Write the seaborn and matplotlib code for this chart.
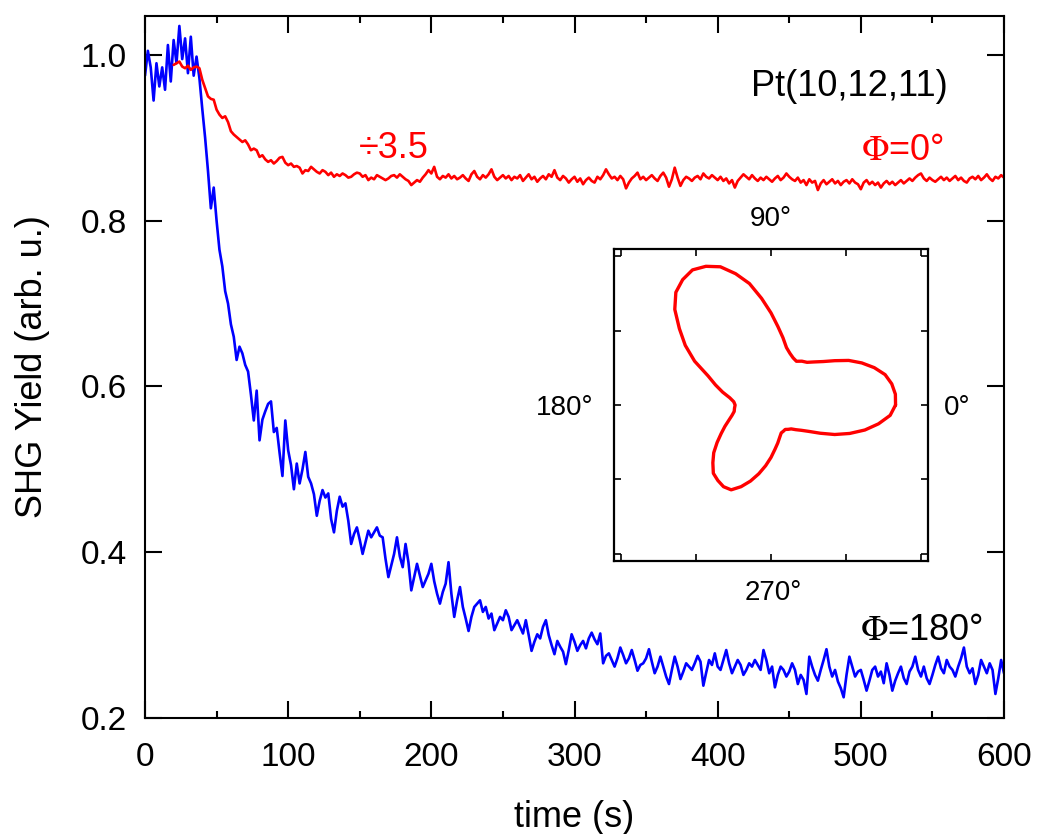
import numpy as np
import matplotlib
matplotlib.use("Agg")
import matplotlib.pyplot as plt
from matplotlib.ticker import MultipleLocator, FormatStrFormatter
import seaborn as sns

# ---------------- data ----------------
# blue trace (Phi = 180 deg), sampled every 2 s from t = 0 s
blue_t0, blue_dt = 0, 2
blue = [
    0.975, 1.005, 0.985, 0.945, 0.990, 0.962, 0.985, 0.958, 1.012, 0.968,
    1.018, 0.990, 1.035, 0.995, 1.020, 0.978, 1.022, 0.975, 0.998, 0.972,
    0.935, 0.900, 0.860, 0.815, 0.840, 0.800, 0.765, 0.745, 0.715, 0.700,
    0.675, 0.660, 0.632, 0.648, 0.640, 0.626, 0.618, 0.590, 0.559, 0.595,
    0.535, 0.560, 0.570, 0.579, 0.582, 0.545, 0.550, 0.520, 0.492, 0.559,
    0.523, 0.505, 0.476, 0.507, 0.483, 0.500, 0.521, 0.491, 0.483, 0.470,
    0.444, 0.462, 0.475, 0.466, 0.471, 0.440, 0.424, 0.450, 0.467, 0.455,
    0.459, 0.438, 0.410, 0.422, 0.430, 0.415, 0.398, 0.412, 0.426, 0.418,
    0.424, 0.430, 0.420, 0.418, 0.392, 0.370, 0.384, 0.398, 0.418, 0.395,
    0.382, 0.410, 0.388, 0.354, 0.370, 0.386, 0.372, 0.358, 0.366, 0.374,
    0.386, 0.365, 0.350, 0.338, 0.352, 0.362, 0.388, 0.350, 0.322, 0.342,
    0.358, 0.334, 0.320, 0.305, 0.322, 0.334, 0.338, 0.342, 0.328, 0.334,
    0.320, 0.326, 0.306, 0.314, 0.322, 0.318, 0.330, 0.322, 0.306, 0.312,
    0.318, 0.310, 0.302, 0.318, 0.300, 0.281, 0.292, 0.301, 0.296, 0.310,
    0.318, 0.300, 0.288, 0.277, 0.293, 0.286, 0.280, 0.265, 0.282, 0.301,
    0.292, 0.281, 0.288, 0.293, 0.284, 0.296, 0.303, 0.295, 0.289, 0.302,
    0.266, 0.275, 0.278, 0.270, 0.262, 0.272, 0.285, 0.276, 0.266, 0.272,
    0.282, 0.270, 0.257, 0.264, 0.266, 0.272, 0.283, 0.268, 0.254, 0.262,
    0.274, 0.262, 0.250, 0.241, 0.258, 0.274, 0.262, 0.247, 0.256, 0.266,
    0.262, 0.258, 0.266, 0.275, 0.268, 0.239, 0.255, 0.270, 0.264, 0.278,
    0.262, 0.258, 0.270, 0.282, 0.266, 0.254, 0.262, 0.270, 0.264, 0.252,
    0.258, 0.266, 0.262, 0.270, 0.264, 0.258, 0.282, 0.270, 0.254, 0.262,
    0.237, 0.252, 0.262, 0.258, 0.250, 0.256, 0.266, 0.258, 0.241, 0.252,
    0.246, 0.229, 0.274, 0.262, 0.252, 0.245, 0.258, 0.270, 0.283, 0.262,
    0.250, 0.258, 0.244, 0.236, 0.225, 0.252, 0.274, 0.262, 0.250, 0.256,
    0.258, 0.246, 0.233, 0.245, 0.258, 0.262, 0.250, 0.256, 0.242, 0.266,
    0.252, 0.233, 0.245, 0.254, 0.262, 0.248, 0.241, 0.256, 0.262, 0.274,
    0.258, 0.250, 0.262, 0.248, 0.241, 0.252, 0.264, 0.274, 0.260, 0.254,
    0.270, 0.262, 0.258, 0.250, 0.262, 0.272, 0.285, 0.262, 0.254, 0.260,
    0.241, 0.252, 0.270, 0.262, 0.254, 0.266, 0.258, 0.229, 0.248, 0.270,
    0.254,
]

# red trace (Phi = 0 deg, divided by 3.5), sampled every 2 s from t = 20 s
red_t0, red_dt = 20, 2
red = [
    0.988, 0.990, 0.992, 0.986, 0.984, 0.987, 0.982, 0.985, 0.986, 0.984,
    0.970, 0.960, 0.950, 0.947, 0.946, 0.934, 0.928, 0.924, 0.926, 0.919,
    0.908, 0.904, 0.901, 0.898, 0.895, 0.897, 0.892, 0.885, 0.887, 0.885,
    0.877, 0.879, 0.874, 0.871, 0.873, 0.869, 0.872, 0.876, 0.877, 0.870,
    0.867, 0.869, 0.865, 0.866, 0.864, 0.857, 0.861, 0.860, 0.865, 0.862,
    0.859, 0.857, 0.861, 0.859, 0.855, 0.858, 0.853, 0.856, 0.854, 0.857,
    0.855, 0.852, 0.853, 0.856, 0.858, 0.857, 0.853, 0.855, 0.849, 0.852,
    0.850, 0.855, 0.853, 0.851, 0.849, 0.851, 0.854, 0.855, 0.852, 0.856,
    0.853, 0.850, 0.848, 0.843, 0.846, 0.849, 0.847, 0.852, 0.856, 0.861,
    0.857, 0.865, 0.853, 0.850, 0.854, 0.852, 0.856, 0.851, 0.854, 0.850,
    0.852, 0.855, 0.851, 0.848, 0.856, 0.860, 0.853, 0.850, 0.855, 0.852,
    0.856, 0.862, 0.853, 0.849, 0.852, 0.855, 0.851, 0.854, 0.849, 0.853,
    0.851, 0.855, 0.848, 0.852, 0.856, 0.850, 0.853, 0.847, 0.851, 0.854,
    0.850, 0.856, 0.853, 0.861, 0.852, 0.849, 0.854, 0.851, 0.846, 0.850,
    0.853, 0.847, 0.851, 0.844, 0.849, 0.852, 0.848, 0.846, 0.853, 0.850,
    0.855, 0.862, 0.856, 0.851, 0.853, 0.849, 0.854, 0.850, 0.839, 0.846,
    0.851, 0.854, 0.858, 0.850, 0.853, 0.849, 0.852, 0.855, 0.851, 0.848,
    0.854, 0.858, 0.852, 0.841, 0.850, 0.864, 0.852, 0.842, 0.849, 0.853,
    0.851, 0.848, 0.852, 0.854, 0.850, 0.857, 0.853, 0.851, 0.855, 0.852,
    0.849, 0.853, 0.848, 0.851, 0.845, 0.849, 0.840, 0.848, 0.852, 0.856,
    0.853, 0.850, 0.855, 0.851, 0.848, 0.852, 0.849, 0.853, 0.850, 0.847,
    0.851, 0.854, 0.849, 0.852, 0.857, 0.853, 0.850, 0.848, 0.852, 0.846,
    0.849, 0.843, 0.850, 0.846, 0.848, 0.837, 0.845, 0.849, 0.844, 0.847,
    0.850, 0.845, 0.848, 0.843, 0.847, 0.849, 0.845, 0.850, 0.846, 0.844,
    0.838, 0.846, 0.849, 0.844, 0.847, 0.843, 0.846, 0.840, 0.845, 0.848,
    0.844, 0.847, 0.843, 0.846, 0.849, 0.845, 0.848, 0.851, 0.848, 0.852,
    0.855, 0.857, 0.851, 0.848, 0.852, 0.849, 0.847, 0.850, 0.853, 0.849,
    0.852, 0.848, 0.851, 0.854, 0.849, 0.852, 0.848, 0.846, 0.851, 0.853,
    0.850, 0.854, 0.849, 0.852, 0.856, 0.851, 0.848, 0.853, 0.851, 0.855,
    0.852,
]

# inset: polar SHG pattern, radius vs azimuth (deg)
phi_deg = list(range(0, 360, 5))
radius = [
    0.833, 0.835, 0.820, 0.790, 0.735, 0.670, 0.600, 0.520, 0.455, 0.410,
    0.375, 0.360, 0.340, 0.350, 0.370, 0.400, 0.460, 0.530, 0.620, 0.720,
    0.830, 0.915, 0.990, 1.030, 1.050, 1.030, 0.990, 0.910, 0.800, 0.700,
    0.590, 0.465, 0.395, 0.335, 0.280, 0.250, 0.240, 0.245, 0.250, 0.270,
    0.300, 0.340, 0.385, 0.440, 0.500, 0.550, 0.600, 0.620, 0.635, 0.630,
    0.585, 0.530, 0.470, 0.410, 0.353, 0.300, 0.260, 0.225, 0.200, 0.195,
    0.190, 0.200, 0.210, 0.235, 0.265, 0.310, 0.380, 0.470, 0.560, 0.650,
    0.730, 0.800,
]

x_ticks = [0, 100, 200, 300, 400, 500, 600]
y_ticks = [0.2, 0.4, 0.6, 0.8, 1.0]

# ---------------- style ----------------
sns.set_style("ticks")
plt.rcParams["font.family"] = ["Liberation Sans", "DejaVu Sans"]
plt.rcParams["mathtext.fontset"] = "stix"
for k in ("text.color", "axes.labelcolor", "xtick.color", "ytick.color", "axes.edgecolor"):
    plt.rcParams[k] = "black"

W, H = 1037, 834
fig = plt.figure(figsize=(W / 100, H / 100), dpi=100)

def fx(px):
    return px / W

def fy(py):
    return 1 - py / H

ax = fig.add_axes([fx(145), fy(718), fx(1004) - fx(145), fy(16) - fy(718)])

t_blue = blue_t0 + blue_dt * np.arange(len(blue))
t_red = red_t0 + red_dt * np.arange(len(red))

sns.lineplot(x=t_blue, y=blue, ax=ax, color="#0000ff", linewidth=1.9,
             estimator=None, sort=False)
sns.lineplot(x=t_red, y=red, ax=ax, color="#ff0000", linewidth=1.9,
             estimator=None, sort=False)

ax.set_xlim(0, 600)
ax.set_ylim(0.2, 1.047)
ax.set_xticks(x_ticks)
ax.set_yticks(y_ticks)
ax.xaxis.set_minor_locator(MultipleLocator(50))
ax.yaxis.set_major_formatter(FormatStrFormatter("%.1f"))
ax.tick_params(which="both", direction="in", top=True, right=True,
               width=1.5, colors="black", labelsize=24, labelcolor="black")
ax.tick_params(which="major", length=12.5)
ax.tick_params(which="minor", length=5)
ax.tick_params(axis="x", pad=17)
ax.tick_params(axis="y", pad=13)
for s in ax.spines.values():
    s.set_linewidth(1.5)
    s.set_color("black")
ax.set_xlabel("time (s)", fontsize=26, labelpad=20, color="black")
ax.set_ylabel("SHG Yield (arb. u.)", fontsize=26, labelpad=22, color="black")

# annotations
fig.text(fx(849), fy(86), "Pt(10,12,11)", fontsize=26, ha="center", va="center", color="black")
fig.text(fx(394), fy(149), "\u00f73.5", fontsize=26, ha="center", va="center", color="#ff0000")
fig.text(fx(903), fy(150), r"$\Phi$=0°", fontsize=26, ha="center", va="center", color="#ff0000")
fig.text(fx(922), fy(630), r"$\Phi$=180°", fontsize=26, ha="center", va="center", color="black")

# ---------------- inset ----------------
ax2 = fig.add_axes([fx(614), fy(561), fx(928) - fx(614), fy(249) - fy(561)])
phi_closed = np.deg2rad(np.append(phi_deg, phi_deg[0]))
r_closed = np.append(radius, radius[0])
px = r_closed * np.cos(phi_closed)
py = r_closed * np.sin(phi_closed)
sns.lineplot(x=px, y=py, ax=ax2, color="#ff0000", linewidth=2.4,
             estimator=None, sort=False)
for ln in ax2.get_lines():
    ln.set_solid_joinstyle("round")
ax2.set_xlim(-1.05, 1.05)
ax2.set_ylim(-1.05, 1.05)
ax2.set_xticks([-1, -0.5, 0, 0.5, 1])
ax2.set_yticks([-1, -0.5, 0, 0.5, 1])
ax2.tick_params(which="both", direction="in", top=True, right=True,
                length=5, width=1.2, labelbottom=False, labelleft=False)
for s in ax2.spines.values():
    s.set_linewidth(1.6)
    s.set_color("black")

fig.text(fx(771), fy(219), "90°", fontsize=20, ha="center", va="center", color="black")
fig.text(fx(773), fy(593), "270°", fontsize=20, ha="center", va="center", color="black")
fig.text(fx(565), fy(408), "180°", fontsize=20, ha="center", va="center", color="black")
fig.text(fx(957), fy(408), "0°", fontsize=20, ha="center", va="center", color="black")

fig.savefig("out.png", dpi=100)
